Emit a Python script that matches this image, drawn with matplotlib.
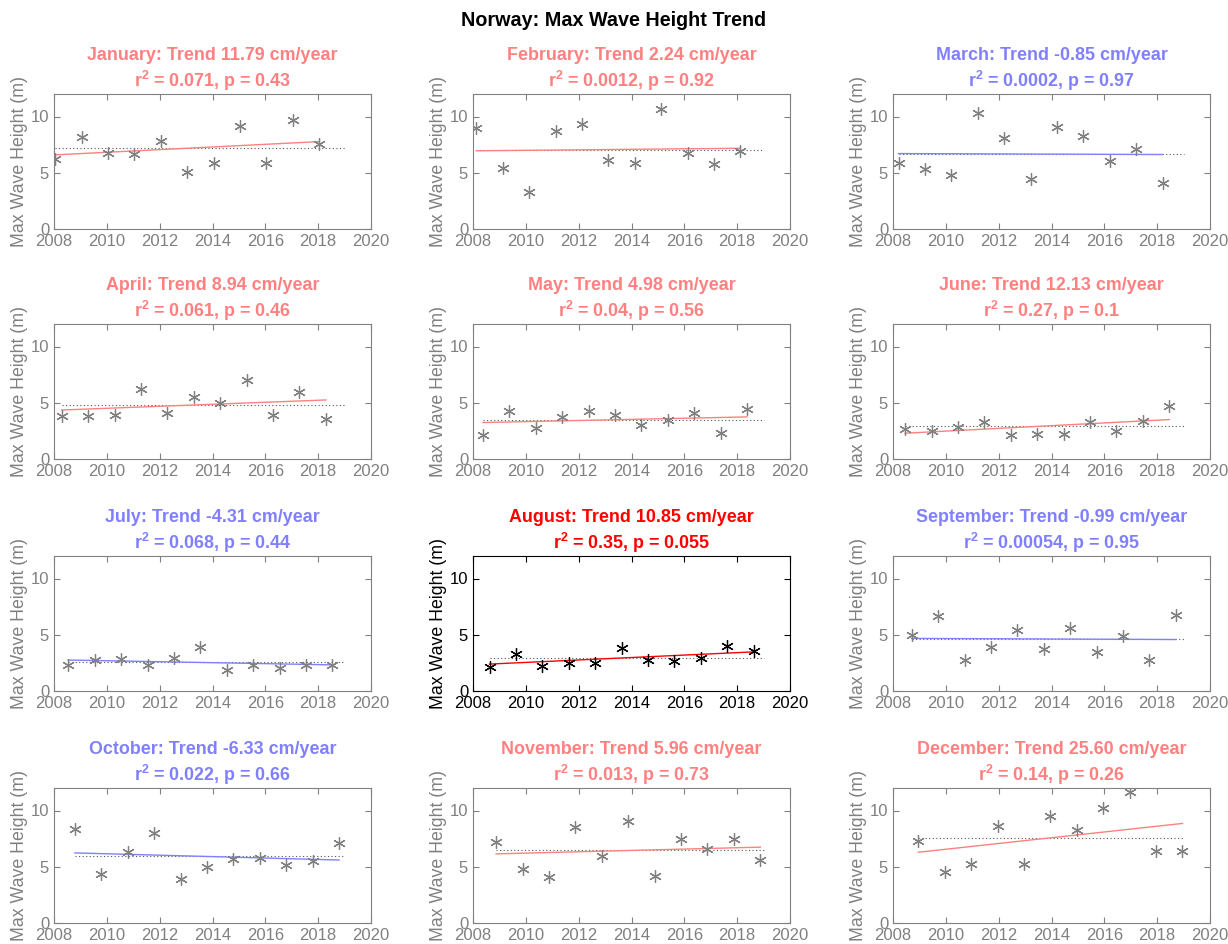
import matplotlib
matplotlib.use("Agg")
import matplotlib.pyplot as plt
import numpy as np

plt.rcParams['font.family'] = ['Liberation Sans', 'DejaVu Sans']
plt.rcParams['mathtext.fontset'] = 'custom'
plt.rcParams['mathtext.rm'] = 'Liberation Sans'
plt.rcParams['mathtext.bf'] = 'Liberation Sans:bold'
plt.rcParams['mathtext.it'] = 'Liberation Sans:italic'

months = ["January", "February", "March", "April", "May", "June",
          "July", "August", "September", "October", "November", "December"]
years = list(range(2008, 2019))

jan = [6.21, 8.17, 6.80, 6.63, 7.84, 5.06, 5.89, 9.20, 5.83, 9.73, 7.60]
feb = [8.96, 5.38, 3.25, 8.67, 9.32, 6.12, 5.89, 10.65, 6.80, 5.77, 6.89]
mar = [5.83, 5.36, 4.76, 10.27, 8.08, 4.47, 9.05, 8.25, 6.07, 7.07, 4.08]
apr = [3.79, 3.79, 3.94, 6.18, 4.08, 5.54, 5.01, 7.06, 3.88, 5.98, 3.56]
may = [2.13, 4.31, 2.74, 3.70, 4.31, 3.94, 3.00, 3.44, 4.08, 2.30, 4.46]
jun = [2.68, 2.51, 2.86, 3.29, 2.13, 2.24, 2.24, 3.29, 2.51, 3.38, 4.75]
jul = [2.28, 2.73, 2.82, 2.28, 2.91, 3.95, 1.90, 2.34, 2.02, 2.34, 2.34]
aug = [2.17, 3.26, 2.23, 2.46, 2.46, 3.80, 2.73, 2.67, 2.97, 4.01, 3.53]
sep = [4.99, 6.68, 2.76, 3.89, 5.40, 3.71, 5.64, 3.47, 4.87, 2.73, 6.74]
oct_ = [8.32, 4.32, 6.35, 7.97, 3.91, 4.94, 5.65, 5.76, 5.18, 5.53, 7.12]
nov = [7.21, 4.76, 4.06, 8.56, 5.94, 9.03, 4.21, 7.50, 6.56, 7.50, 5.56]
dec = [7.29, 4.50, 5.26, 8.59, 5.26, 9.47, 8.24, 10.18, 11.68, 6.38, 6.41]
values = [jan, feb, mar, apr, may, jun, jul, aug, sep, oct_, nov, dec]

trend_cm = [11.79, 2.24, -0.85, 8.94, 4.98, 12.13, -4.31, 10.85, -0.99, -6.33, 5.96, 25.60]
r2_text = ["0.071", "0.0012", "0.0002", "0.061", "0.04", "0.27",
           "0.068", "0.35", "0.00054", "0.022", "0.013", "0.14"]
p_text = ["0.43", "0.92", "0.97", "0.46", "0.56", "0.1",
          "0.44", "0.055", "0.95", "0.66", "0.73", "0.26"]
p_vals = [float(p) for p in p_text]

W, H = 1228, 944
fig = plt.figure(figsize=(W / 100, H / 100), dpi=100)

lefts = [54, 473, 893]
tops = [94, 324, 556, 788]
aw, ah = 317, 135

for i, m in enumerate(months):
    r, c = divmod(i, 3)
    ax = fig.add_axes([lefts[c] / W, 1 - (tops[r] + ah) / H, aw / W, ah / H])
    y = np.array(values[i])
    x = np.array(years) + (i + 0.5) / 12.0
    sig = p_vals[i] < 0.1
    trend = trend_cm[i]
    if sig:
        tcol = '#ff0000'
        lcol = '#ff0000'
        axcol = 'black'
        mcol = 'black'
    else:
        tcol = '#ff8080' if trend > 0 else '#8080ff'
        lcol = tcol
        axcol = '#808080'
        mcol = '#808080'
    mean = y.mean()
    ax.plot([x[0], 2019], [mean, mean], color='#555555', lw=0.8,
            dashes=(1, 2.2), zorder=1)
    slope = trend / 100.0
    xm = x.mean()
    ax.plot([x[0], x[-1]], [mean + slope * (x[0] - xm), mean + slope * (x[-1] - xm)],
            '-', color=lcol, lw=1.0, zorder=2)
    ax.plot(x, y, linestyle='none', marker=(6, 2, 0), markersize=9,
            markeredgewidth=0.9, color=mcol, zorder=3)
    ax.set_xlim(2008, 2020)
    ax.set_ylim(0, 12)
    ax.set_xticks(range(2008, 2021, 2))
    ax.set_yticks([0, 5, 10])
    ax.tick_params(direction='in', top=True, right=True, colors=axcol,
                   labelsize=12, length=4, width=0.8)
    for s in ax.spines.values():
        s.set_color(axcol)
        s.set_linewidth(0.8)
    ax.set_ylabel('Max Wave Height (m)', color=axcol, fontsize=12.8, labelpad=2)
    ax.set_title(f"{m}: Trend {trend:.2f} cm/year\n" + r"$\mathbf{r^2}$" +
                 f" = {r2_text[i]}, p = {p_text[i]}",
                 color=tcol, fontweight='bold', fontsize=12.9, pad=5, linespacing=1.3)

fig.suptitle('Norway: Max Wave Height Trend', fontweight='bold', fontsize=14.2,
             y=1 - 20 / H, va='center')

fig.savefig('out.png', dpi=100)
